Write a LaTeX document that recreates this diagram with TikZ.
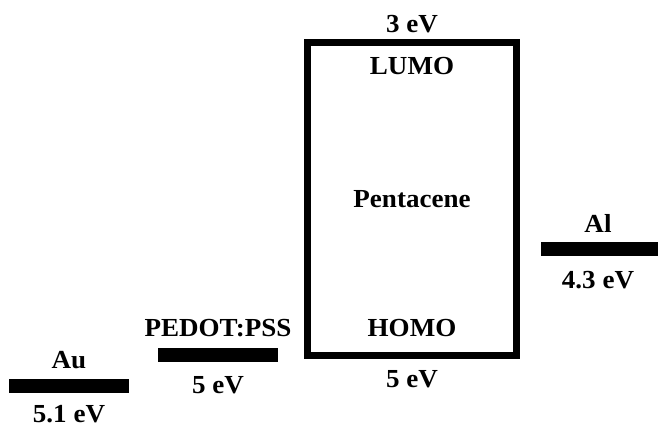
\documentclass[tikz,border=0pt]{standalone}
\usepackage{fontspec}
\setmainfont[FakeStretch=1.04]{Liberation Serif}

\begin{document}
\begin{tikzpicture}[x=1pt,y=-1pt,
    every node/.style={font=\fontsize{26}{30}\selectfont\bfseries},
    lbl/.style={anchor=base,inner sep=0pt,text depth=0pt},
    level/.style={fill=black,inner sep=0pt,minimum height=14pt}]
\useasboundingbox (0,0) rectangle (658,426);
    % pentacene box
    \draw[line width=7pt] (307.5,42.5) rectangle (516.5,355.5);
    \node[lbl] (lumoE) at (412,32) {3 eV};
    \node[lbl] (lumo) at (412,74) {LUMO};
    \node[lbl] (penta) at (412,207) {Pentacene};
    \node[lbl] (homo) at (412,336) {HOMO};
    \node[lbl] (homoE) at (412,387) {5 eV};
    % electrodes
    \node[level,minimum width=120pt] (au) at (69,385.5) {};
    \node[lbl] (auName) at (69,368) {Au};
    \node[lbl] (auE) at (69,422) {5.1 eV};
    \node[level,minimum width=120pt] (pedot) at (218,355) {};
    \node[lbl] (pedotName) at (218,336) {PEDOT:PSS};
    \node[lbl] (pedotE) at (218,393) {5 eV};
    \node[level,minimum width=117pt] (al) at (599.5,249) {};
    \node[lbl] (alName) at (598,232) {Al};
    \node[lbl] (alE) at (598,288) {4.3 eV};
\end{tikzpicture}
\end{document}
